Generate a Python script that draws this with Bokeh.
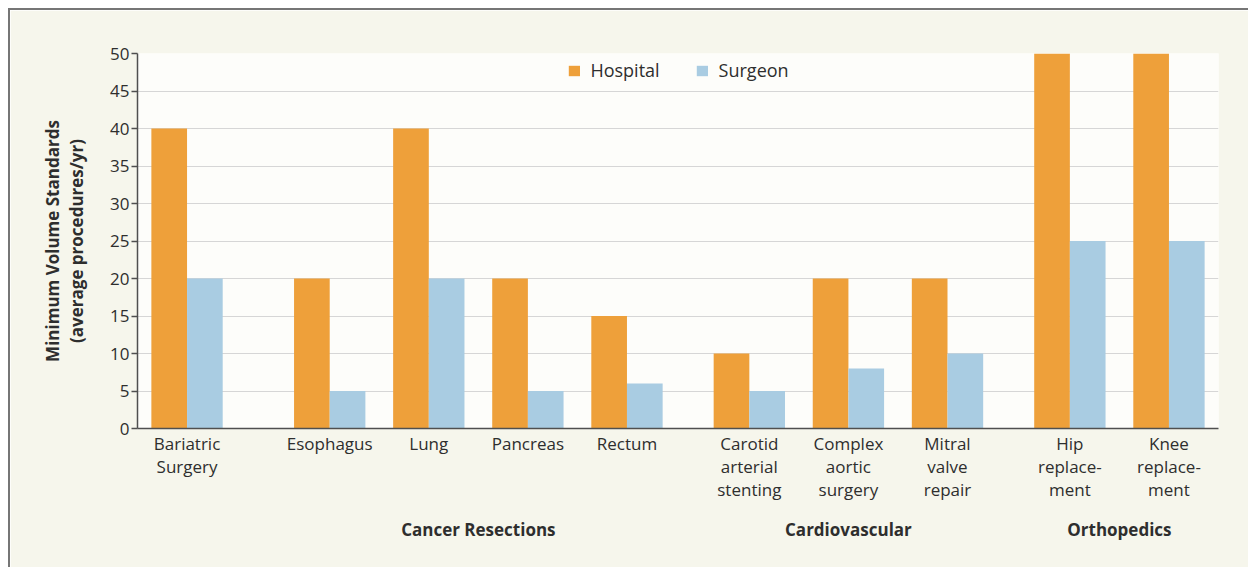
from bokeh.plotting import figure
from bokeh.models import (FactorRange, Range1d, ColumnDataSource,
                          Legend, LegendItem, FixedTicker)
from bokeh.transform import dodge
from bokeh.embed import file_html
from bokeh.resources import INLINE

# ---------------- data ----------------
items = ["Bariatric\nSurgery", "Esophagus", "Lung", "Pancreas", "Rectum",
         "Carotid\narterial\nstenting", "Complex\naortic\nsurgery",
         "Mitral\nvalve\nrepair", "Hip\nreplace-\nment", "Knee\nreplace-\nment"]
sections = ["Bariatric Surgery", "Cancer Resections", "Cancer Resections",
            "Cancer Resections", "Cancer Resections", "Cardiovascular",
            "Cardiovascular", "Cardiovascular", "Orthopedics", "Orthopedics"]
headline_sections = ["Bariatric Surgery"]   # sections named by their single item label
hospital = [40, 20, 40, 20, 15, 10, 20, 20, 50, 50]
surgeon = [20, 5, 20, 5, 6, 5, 8, 10, 25, 25]
series = ["Hospital", "Surgeon"]
y_ticks = [0, 5, 10, 15, 20, 25, 30, 35, 40, 45, 50]
y_title = "Minimum Volume Standards\n(average procedures/yr)"

# ---------------- layout / style ----------------
FONT = "Open Sans"
ORANGE = "#EEA03A"
BLUE = "#A9CCE2"
TEXT = "#2e2e2e"
BEIGE = "#f6f6ec"
W, H = 1240, 559
ML, MR, MT, MB = 127, 32, 43, 141
GP, SP, FP = 0.44, 0.235, 0.0                    # factor range paddings

tier = ["alone" if s in headline_sections else "grouped" for s in sections]
# section names sit one short (leading) line lower than the item names
mid = ["" if s in headline_sections else "\n" + s for s in sections]
factors = list(zip(tier, mid, items))

x_range = FactorRange(factors=factors, group_padding=GP, subgroup_padding=SP,
                      factor_padding=FP, range_padding=0.0)

p = figure(x_range=x_range, y_range=Range1d(y_ticks[0], y_ticks[-1]),
           width=W, height=H, output_backend="svg", toolbar_location=None,
           min_border_left=ML, min_border_right=MR, min_border_top=MT,
           min_border_bottom=MB)
p.styles = {"margin-left": "8px", "margin-top": "8px",
            "border-top": "2px solid #767676", "border-left": "2px solid #767676"}
p.background_fill_color = "#fdfdfa"
p.border_fill_color = BEIGE
p.outline_line_color = None

src = ColumnDataSource(dict(x=factors, hospital=hospital, surgeon=surgeon))
bw = 0.36
r_h = p.vbar(x=dodge("x", -bw / 2, range=p.x_range), top="hospital", width=bw,
             source=src, fill_color=ORANGE, line_color=None)
r_s = p.vbar(x=dodge("x", bw / 2, range=p.x_range), top="surgeon", width=bw,
             source=src, fill_color=BLUE, line_color=None)

legend = Legend(items=[LegendItem(label=series[0], renderers=[r_h]),
                       LegendItem(label=series[1], renderers=[r_s])],
                location="top_center", orientation="horizontal",
                background_fill_alpha=0, border_line_color=None,
                glyph_width=14, glyph_height=13, label_standoff=10, spacing=35,
                margin=5, padding=18,
                label_text_font=FONT, label_text_font_size="18px",
                label_text_color=TEXT)
p.add_layout(legend, "center")

# grid
p.xgrid.visible = False
p.ygrid.ticker = FixedTicker(ticks=y_ticks)
p.ygrid.grid_line_color = "#d6d6d6"
p.ygrid.grid_line_width = 1

# y axis
ya = p.yaxis[0]
ya.ticker = FixedTicker(ticks=y_ticks)
ya.axis_label = y_title
ya.axis_label_text_font = FONT
ya.axis_label_text_font_size = "17px"
ya.axis_label_text_font_style = "bold"
ya.axis_label_text_color = TEXT
ya.axis_label_text_line_height = 1.03
ya.axis_label_standoff = 19
ya.major_label_text_font = FONT
ya.major_label_text_font_size = "17px"
ya.major_label_text_color = TEXT
ya.major_label_standoff = 2
ya.major_tick_in = 0
ya.major_tick_out = 6
ya.minor_tick_line_color = None
ya.axis_line_color = "#4f4f4f"
ya.axis_line_width = 1.5
ya.major_tick_line_color = "#4f4f4f"
ya.major_tick_line_width = 1.5

# x axis: item names (major), section names (subgroup), tier hidden
xa = p.xaxis[0]
xa.axis_line_color = "#4f4f4f"
xa.axis_line_width = 1.5
xa.major_tick_line_color = None
xa.minor_tick_line_color = None
xa.major_label_standoff = -3
xa.major_label_orientation = "horizontal"
xa.major_label_text_font = FONT
xa.major_label_text_font_size = "17px"
xa.major_label_text_color = TEXT
xa.major_label_text_line_height = 1.0
xa.subgroup_label_orientation = "horizontal"
xa.subgroup_text_font = FONT
xa.subgroup_text_font_size = "17px"
xa.subgroup_text_font_style = "bold"
xa.subgroup_text_color = TEXT
xa.subgroup_text_line_height = 0.75
xa.group_text_color = None
xa.group_text_font_size = "1px"
xa.separator_line_color = None

open("out.html", "w").write(file_html(p, INLINE))
